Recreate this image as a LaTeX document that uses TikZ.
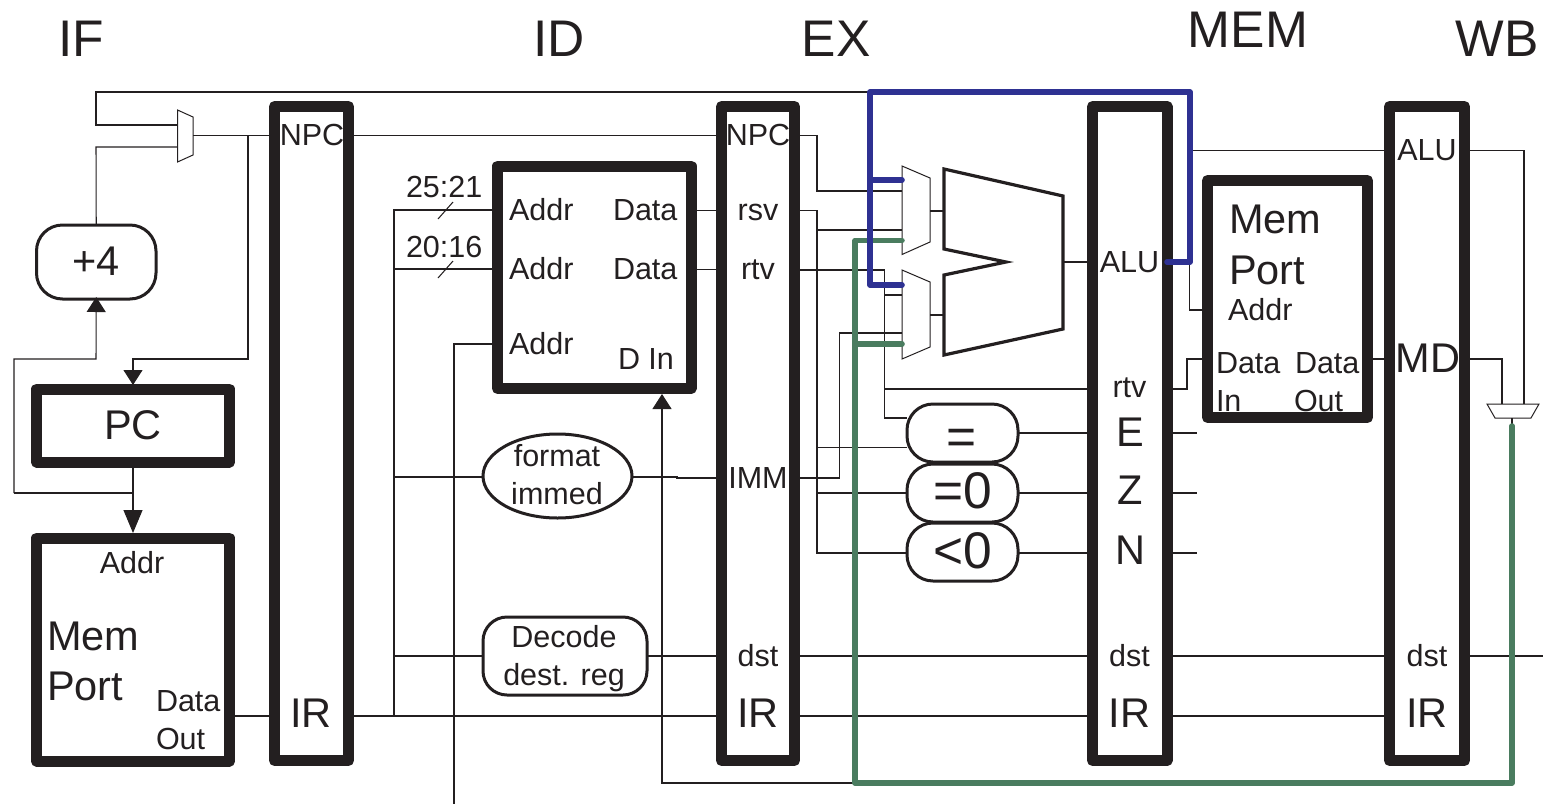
\documentclass[tikz,border=0pt]{standalone}
\usepackage{fontspec}
\setmainfont{Liberation Sans}
\usetikzlibrary{arrows.meta,shapes.geometric}
\definecolor{ink}{HTML}{231F20}
\definecolor{fwdblue}{HTML}{2E3192}
\definecolor{fwdgreen}{HTML}{4A7C5F}
\newcommand{\fsS}{\fontsize{30.5}{36}\selectfont}
\newcommand{\fsM}{\fontsize{41.5}{46}\selectfont}
\newcommand{\fsL}{\fontsize{51.5}{56}\selectfont}
\tikzset{
  heavybox/.style={draw=ink,line width=11pt,line join=round,inner sep=0pt,outer sep=0pt,rectangle},
  latchbox/.style={heavybox,minimum height=654pt},
  thinbox/.style={draw=ink,line width=3pt,inner sep=0pt,outer sep=0pt,rectangle},
  wire/.style={draw=ink,line width=1.05pt},
  muxshape/.style={draw=ink,line width=1pt,line join=miter},
  alushape/.style={draw=ink,line width=3.2pt,line join=miter},
  bluewire/.style={draw=fwdblue,line width=5.6pt,line cap=round,line join=round},
  greenwire/.style={draw=fwdgreen,line width=5.6pt,line cap=round,line join=round},
  tipped/.style={-{Triangle[width=19pt,length=15pt,fill=ink]}},
  tippedlong/.style={-{Triangle[width=19pt,length=23pt,fill=ink]}},
  lab/.style={inner sep=0pt,outer sep=0pt,text=ink,anchor=base,font=\fsS},
  labw/.style={lab,anchor=base west},
  labM/.style={lab,font=\fsM},
  labMw/.style={labw,font=\fsM},
  labL/.style={lab,font=\fsL},
}
\begin{document}
\begin{tikzpicture}[x=1pt,y=-1pt]
\useasboundingbox (0,0) rectangle (1543,804);
% stage titles
\node[labL] (tIF) at (81,56) {IF};
\node[labL] (tID) at (559,56) {ID};
\node[labL] (tEX) at (836,56) {EX};
\node[labL] (tMEM) at (1248,47) {MEM};
\node[labL] (tWB) at (1497,56) {WB};
% latches
\node[latchbox,minimum width=74pt] (ifid) at (311.5,433.5) {};
\node[latchbox,minimum width=73pt] (idex) at (758,433.5) {};
\node[latchbox,minimum width=74.5pt] (exmem) at (1129.75,433.5) {};
\node[latchbox,minimum width=75pt] (memwb) at (1427,433.5) {};
% big boxes
\node[heavybox,minimum width=193pt,minimum height=73pt] (pc) at (133,425.5) {};
\node[heavybox,minimum width=193pt,minimum height=223pt] (imem) at (133,649.5) {};
\node[heavybox,minimum width=193.5pt,minimum height=222.5pt] (regs) at (594.25,277.25) {};
\node[heavybox,minimum width=160pt,minimum height=237pt] (dmem) at (1287.5,299) {};
% rounded units
\node[thinbox,rounded corners=26pt,minimum width=119.5pt,minimum height=74pt] (plus) at (96.25,262) {};
\node[thinbox,rounded corners=26pt,minimum width=111pt,minimum height=58pt] (eq) at (962.5,433) {};
\node[thinbox,rounded corners=26pt,minimum width=111pt,minimum height=58pt] (eqz) at (962.5,493) {};
\node[thinbox,rounded corners=26pt,minimum width=111pt,minimum height=58pt] (ltz) at (962.5,552) {};
\node[draw=ink,line width=3pt,ellipse,inner sep=0pt,outer sep=0pt,minimum width=149pt,minimum height=84pt] (fmt) at (557.5,476) {};
\node[thinbox,rounded corners=24pt,minimum width=164pt,minimum height=78pt] (dec) at (565,656) {};
% muxes and ALU
\draw[muxshape] (177.5,110) -- (193,117) -- (193,155) -- (177.5,162) -- cycle;
\draw[muxshape] (902,166) -- (930,178) -- (930,242) -- (902,254.5) -- cycle;
\draw[muxshape] (902,270) -- (930,282) -- (930,347) -- (902,359) -- cycle;
\draw[muxshape] (1487,404) -- (1539,404) -- (1531,418) -- (1495,418) -- cycle;
\draw[alushape] (944,169) -- (1063,196) -- (1063,329) -- (944,355) -- (944,275) -- (1006,262) -- (944,249) -- cycle;
\coordinate (muxPCa) at (177.5,125);
\coordinate (muxPCb) at (177.5,147);
\coordinate (muxPCo) at (193,135.5);
\coordinate (muxA1) at (902,191);
\coordinate (muxA2) at (902,230);
\coordinate (muxB1) at (902,295);
\coordinate (muxB2) at (902,333);
\coordinate (muxAo) at (930,211);
\coordinate (muxBo) at (930,315);
\coordinate (aluA) at (944,211);
\coordinate (aluB) at (944,315);
\coordinate (aluO) at (1063,262);
\coordinate (muxWa) at (1502,404);
\coordinate (muxWb) at (1524,404);
\coordinate (muxWs) at (1512,418);
\coordinate (cBlue) at (870,92);
\coordinate (cGreen) at (855,783);
% IF wires
\draw[wire] (cBlue) -- (96,92) -- (96,125) -- (muxPCa);
\draw[wire] (plus.north) -- (96,147) -- (muxPCb);
\draw[wire] (muxPCo) -- (ifid.west |- 0,135.5);
\draw[wire,tipped,shorten >=4pt] (248,135.5) -- (248,359) -- (133,359) -- (pc.north);
\draw[wire,tipped,shorten >=-2pt] (14,493) -- (14,359) -- (96,359) -- (plus.south);
\draw[wire,tippedlong,shorten >=5pt] (pc.south) -- (imem.north);
\draw[wire] (133,493) -- (14,493);
\draw[wire] (imem.east |- 0,716) -- (ifid.west |- 0,716);
% ID wires
\draw[wire] (ifid.east |- 0,135.5) -- (idex.west |- 0,135.5);
\draw[wire] (ifid.east |- 0,716) -- (idex.west |- 0,716);
\draw[wire] (394,716) -- (394,210) -- (regs.west |- 0,210);
\draw[wire] (394,269) -- (regs.west |- 0,269);
\draw[wire] (394,477) -- (fmt.west |- 0,477);
\draw[wire] (394,656) -- (dec.west);
\draw[wire] (438,219) -- (453,202);
\draw[wire] (438,278) -- (453,261);
\draw[wire] (regs.west |- 0,344) -- (454,344) -- (454,804);
\draw[wire] (regs.east |- 0,210.5) -- (idex.west |- 0,210.5);
\draw[wire] (regs.east |- 0,269.5) -- (idex.west |- 0,269.5);
\draw[wire] (fmt.east |- 0,477) -- (677,477) -- (677,478) -- (idex.west |- 0,478);
\draw[wire] (dec.east) -- (idex.west |- 0,656);
\draw[wire,tipped,shorten >=5.5pt] (cGreen) -- (662,783) -- (regs.south -| 662,0);
% EX wires
\draw[wire] (idex.east |- 0,135.5) -- (817,135.5) -- (817,191) -- (muxA1);
\draw[wire] (idex.east |- 0,210.5) -- (817,210.5) -- (817,553) -- (ltz.west |- 0,553);
\draw[wire] (817,230) -- (muxA2);
\draw[wire] (817,447.5) -- (eq.west |- 0,447.5);
\draw[wire] (817,493) -- (eqz.west);
\draw[wire] (idex.east |- 0,270) -- (884.5,270) -- (884.5,418) -- (eq.west |- 0,418);
\draw[wire] (884.5,295) -- (muxB1);
\draw[wire] (884.5,389) -- (exmem.west |- 0,389);
\draw[wire] (idex.east |- 0,478) -- (839.5,478) -- (839.5,333) -- (muxB2);
\draw[wire] (muxAo) -- (aluA);
\draw[wire] (muxBo) -- (aluB);
\draw[wire] (aluO) -- (exmem.west |- 0,262);
\draw[wire] (eq.east) -- (exmem.west |- 0,433);
\draw[wire] (eqz.east) -- (exmem.west |- 0,493);
\draw[wire] (ltz.east |- 0,553) -- (exmem.west |- 0,553);
\draw[wire] (idex.east |- 0,656) -- (exmem.west |- 0,656);
\draw[wire] (idex.east |- 0,716) -- (exmem.west |- 0,716);
% MEM wires
\coordinate (endE) at (1197,433);
\coordinate (endZ) at (1197,493);
\coordinate (endN) at (1197,553);
\draw[wire] (exmem.east |- endE) -- (endE);
\draw[wire] (exmem.east |- endZ) -- (endZ);
\draw[wire] (exmem.east |- endN) -- (endN);
\draw[wire] (exmem.east |- 0,389) -- (1187,389) -- (1187,359) -- (dmem.west |- 0,359);
\draw[wire] (1189.5,262) -- (1189.5,310) -- (dmem.west |- 0,310);
\draw[wire] (1190,150.5) -- (memwb.west |- 0,150.5);
\draw[wire] (dmem.east |- 0,359) -- (memwb.west |- 0,359);
\draw[wire] (exmem.east |- 0,656) -- (memwb.west |- 0,656);
\draw[wire] (exmem.east |- 0,716) -- (memwb.west |- 0,716);
% WB wires
\coordinate (endDst) at (1543,656);
\draw[wire] (memwb.east |- 0,150.5) -- (1524,150.5) -- (muxWb);
\draw[wire] (memwb.east |- 0,359) -- (1502,359) -- (muxWa);
\draw[wire] (memwb.east |- endDst) -- (endDst);
\draw[wire] (muxWs) -- (1512,426);
% forwarding paths
\draw[greenwire] (muxA2 |- 0,240.5) -- (855,240.5) -- (cGreen) -- (1512,783) -- (1512,426);
\draw[greenwire] (855,344) -- (muxB2 |- 0,344);
\draw[bluewire] (exmem.east |- 0,262) -- (1190,262) -- (1190,92) -- (cBlue) -- (870,285) -- (muxB1 |- 0,285);
\draw[bluewire] (870,180) -- (muxA1 |- 0,180);
% labels
\node[lab] (l1) at (312,145) {NPC};
\node[lab] (l2) at (758,145) {NPC};
\node[labM] (l3) at (311,727) {IR};
\node[labM] (l4) at (758,727) {IR};
\node[labM] (l5) at (1129.5,727) {IR};
\node[labM] (l6) at (1427,727) {IR};
\node[lab] (l7) at (758,666) {dst};
\node[lab] (l8) at (1129.5,666) {dst};
\node[lab] (l9) at (1427,666) {dst};
\node[labM] (l10) at (133,439) {PC};
\node[labM] (l11) at (96,275) {+4};
\node[lab] (l12) at (132,573) {Addr};
\node[labMw] (l13) at (47,650) {Mem};
\node[labMw] (l14) at (47,700) {Port};
\node[labw] (l15) at (156,711) {Data};
\node[labw] (l16) at (156,749) {Out};
\node[labw] (l17) at (406,197) {25:21};
\node[labw] (l18) at (406,257) {20:16};
\node[labw] (l19) at (509,220) {Addr};
\node[labw] (l20) at (509,279) {Addr};
\node[labw] (l21) at (509,354) {Addr};
\node[labw] (l22) at (613,220) {Data};
\node[labw] (l23) at (613,279) {Data};
\node[labw] (l24) at (618,369) {D In};
\node[lab] (l25) at (758,220) {rsv};
\node[lab] (l26) at (758,279) {rtv};
\node[lab] (l27) at (758,488) {IMM};
\node[lab] (l28) at (557,466) {format};
\node[lab] (l29) at (557,504) {immed};
\node[lab] (l30) at (564,647) {Decode};
\node[lab] (l31) at (564,685) {dest. reg};
\node[lab] (l32) at (1129.5,272) {ALU};
\node[lab] (l33) at (1129.5,397) {rtv};
\node[labM] (l34) at (1130,446) {E};
\node[labM] (l35) at (1130,504) {Z};
\node[labM] (l36) at (1130,564) {N};
\node[labL] (l37) at (962,454) {=};
\node[labL] (l38) at (963,508) {=0};
\node[labL] (l39) at (963,568) {<0};
\node[labMw] (l40) at (1229,233) {Mem};
\node[labMw] (l41) at (1229,284) {Port};
\node[labw] (l42) at (1228,320) {Addr};
\node[labw] (l43) at (1216,373) {Data};
\node[labw] (l44) at (1216,411) {In};
\node[labw] (l45) at (1295,373) {Data};
\node[labw] (l46) at (1294,411) {Out};
\node[lab] (l47) at (1427,160) {ALU};
\node[labM] (l48) at (1428,372) {MD};
\end{tikzpicture}
\end{document}
